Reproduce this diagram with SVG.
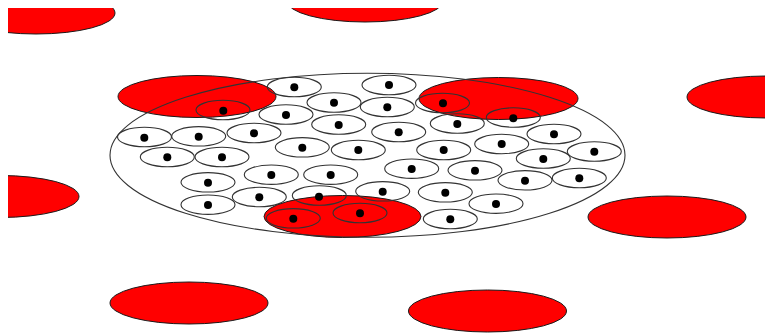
<svg xmlns="http://www.w3.org/2000/svg" width="765" height="333" viewBox="0 0 765 333">
<style>
.red{fill:#ff0000;stroke:#1a1a1a;stroke-width:1}
.big{fill:none;stroke:#333;stroke-width:1.1}
.cell ellipse{fill:none;stroke:#333;stroke-width:1.1}
.cell circle{fill:#000}
</style>
<defs>
<clipPath id="clip"><rect x="8" y="8" width="757" height="325"/></clipPath>
</defs>
<rect width="765" height="333" fill="#fff"/>
<g clip-path="url(#clip)">
<g id="blobs">
<ellipse class="red" cx="36" cy="13" rx="79" ry="21"/>
<ellipse class="red" cx="365" cy="1" rx="78" ry="21"/>
<ellipse class="red" cx="766" cy="97" rx="79" ry="21"/>
<ellipse class="red" cx="0" cy="196.5" rx="79" ry="21"/>
<ellipse class="red" cx="667" cy="217" rx="79" ry="21"/>
<ellipse class="red" cx="189" cy="303" rx="79" ry="21"/>
<ellipse class="red" cx="487.5" cy="311" rx="79" ry="21"/>
<ellipse class="red" cx="197" cy="96.5" rx="79" ry="21"/>
<ellipse class="red" cx="498.5" cy="98.5" rx="79.5" ry="21"/>
<ellipse class="red" cx="342.5" cy="216.5" rx="78.5" ry="21"/>
</g>
<g id="container">
<ellipse class="big" cx="367.5" cy="155.3" rx="257.5" ry="82"/>
</g>
<g id="cells" class="cell">
<g id="c1"><ellipse cx="294.3" cy="87" rx="27" ry="9.7"/><circle cx="294.3" cy="87.3" r="4"/></g>
<g id="c2"><ellipse cx="389" cy="85" rx="27" ry="9.7"/><circle cx="389" cy="85" r="4"/></g>
<g id="c3"><ellipse cx="223" cy="110" rx="27" ry="9.7"/><circle cx="223.3" cy="110.7" r="4"/></g>
<g id="c4"><ellipse cx="334" cy="102.5" rx="27" ry="9.7"/><circle cx="334" cy="102.7" r="4"/></g>
<g id="c5"><ellipse cx="387.3" cy="107" rx="27" ry="9.7"/><circle cx="387.3" cy="107.3" r="4"/></g>
<g id="c6"><ellipse cx="442.5" cy="103" rx="27" ry="9.7"/><circle cx="443" cy="103.3" r="4"/></g>
<g id="c7"><ellipse cx="513.3" cy="117.5" rx="27" ry="9.7"/><circle cx="513.3" cy="118.3" r="4"/></g>
<g id="c8"><ellipse cx="286" cy="114.5" rx="27" ry="9.7"/><circle cx="286" cy="115" r="4"/></g>
<g id="c9"><ellipse cx="338.7" cy="124.5" rx="27" ry="9.7"/><circle cx="338.7" cy="125" r="4"/></g>
<g id="c10"><ellipse cx="398.7" cy="132" rx="27" ry="9.7"/><circle cx="398.7" cy="132.3" r="4"/></g>
<g id="c11"><ellipse cx="457.3" cy="123.5" rx="27" ry="9.7"/><circle cx="457.3" cy="124" r="4"/></g>
<g id="c12"><ellipse cx="554" cy="134" rx="27" ry="9.7"/><circle cx="554" cy="134.3" r="4"/></g>
<g id="c13"><ellipse cx="144.5" cy="137" rx="27" ry="9.7"/><circle cx="144.3" cy="137.7" r="4"/></g>
<g id="c14"><ellipse cx="198.7" cy="136.3" rx="27" ry="9.7"/><circle cx="198.7" cy="136.7" r="4"/></g>
<g id="c15"><ellipse cx="254" cy="133" rx="27" ry="9.7"/><circle cx="254" cy="133.3" r="4"/></g>
<g id="c16"><ellipse cx="167.3" cy="157" rx="27" ry="9.7"/><circle cx="167.3" cy="157.3" r="4"/></g>
<g id="c17"><ellipse cx="222" cy="157" rx="27" ry="9.7"/><circle cx="222" cy="157.3" r="4"/></g>
<g id="c18"><ellipse cx="302.3" cy="147.3" rx="27" ry="9.7"/><circle cx="302.3" cy="147.7" r="4"/></g>
<g id="c19"><ellipse cx="358.3" cy="150" rx="27" ry="9.7"/><circle cx="358.3" cy="150" r="4"/></g>
<g id="c20"><ellipse cx="443.7" cy="150" rx="27" ry="9.7"/><circle cx="443.7" cy="150" r="4"/></g>
<g id="c21"><ellipse cx="501.7" cy="144" rx="27" ry="9.7"/><circle cx="501.7" cy="144" r="4"/></g>
<g id="c22"><ellipse cx="543.3" cy="158.5" rx="27" ry="9.7"/><circle cx="543.3" cy="159" r="4"/></g>
<g id="c23"><ellipse cx="594.3" cy="151.5" rx="27" ry="9.7"/><circle cx="594.3" cy="151.7" r="4"/></g>
<g id="c24"><ellipse cx="208" cy="182.3" rx="27" ry="9.7"/><circle cx="208" cy="182.7" r="4"/></g>
<g id="c25"><ellipse cx="271.3" cy="174.7" rx="27" ry="9.7"/><circle cx="271.3" cy="175" r="4"/></g>
<g id="c26"><ellipse cx="330.7" cy="174.7" rx="27" ry="9.7"/><circle cx="330.7" cy="175" r="4"/></g>
<g id="c27"><ellipse cx="411.7" cy="168.7" rx="27" ry="9.7"/><circle cx="411.7" cy="169" r="4"/></g>
<g id="c28"><ellipse cx="475" cy="170.3" rx="27" ry="9.7"/><circle cx="475" cy="170.7" r="4"/></g>
<g id="c29"><ellipse cx="525" cy="180.3" rx="27" ry="9.7"/><circle cx="525" cy="180.7" r="4"/></g>
<g id="c30"><ellipse cx="579.3" cy="178" rx="27" ry="9.7"/><circle cx="579.3" cy="178.3" r="4"/></g>
<g id="c31"><ellipse cx="208" cy="204.7" rx="27" ry="9.7"/><circle cx="208" cy="205" r="4"/></g>
<g id="c32"><ellipse cx="259.3" cy="197" rx="27" ry="9.7"/><circle cx="259.3" cy="197.3" r="4"/></g>
<g id="c33"><ellipse cx="319.3" cy="195.5" rx="27" ry="9.7"/><circle cx="319" cy="196.7" r="4"/></g>
<g id="c34"><ellipse cx="382.7" cy="191.3" rx="27" ry="9.7"/><circle cx="382.7" cy="191.7" r="4"/></g>
<g id="c35"><ellipse cx="445.3" cy="192.3" rx="27" ry="9.7"/><circle cx="445.3" cy="192.7" r="4"/></g>
<g id="c36"><ellipse cx="496" cy="203.7" rx="27" ry="9.7"/><circle cx="496" cy="204" r="4"/></g>
<g id="c37"><ellipse cx="293.3" cy="218.3" rx="27" ry="9.7"/><circle cx="293.3" cy="218.7" r="4"/></g>
<g id="c38"><ellipse cx="360" cy="213" rx="27" ry="9.7"/><circle cx="360" cy="213.3" r="4"/></g>
<g id="c39"><ellipse cx="450.3" cy="219" rx="27" ry="9.7"/><circle cx="450.3" cy="219.3" r="4"/></g>
</g>
</g>
</svg>
